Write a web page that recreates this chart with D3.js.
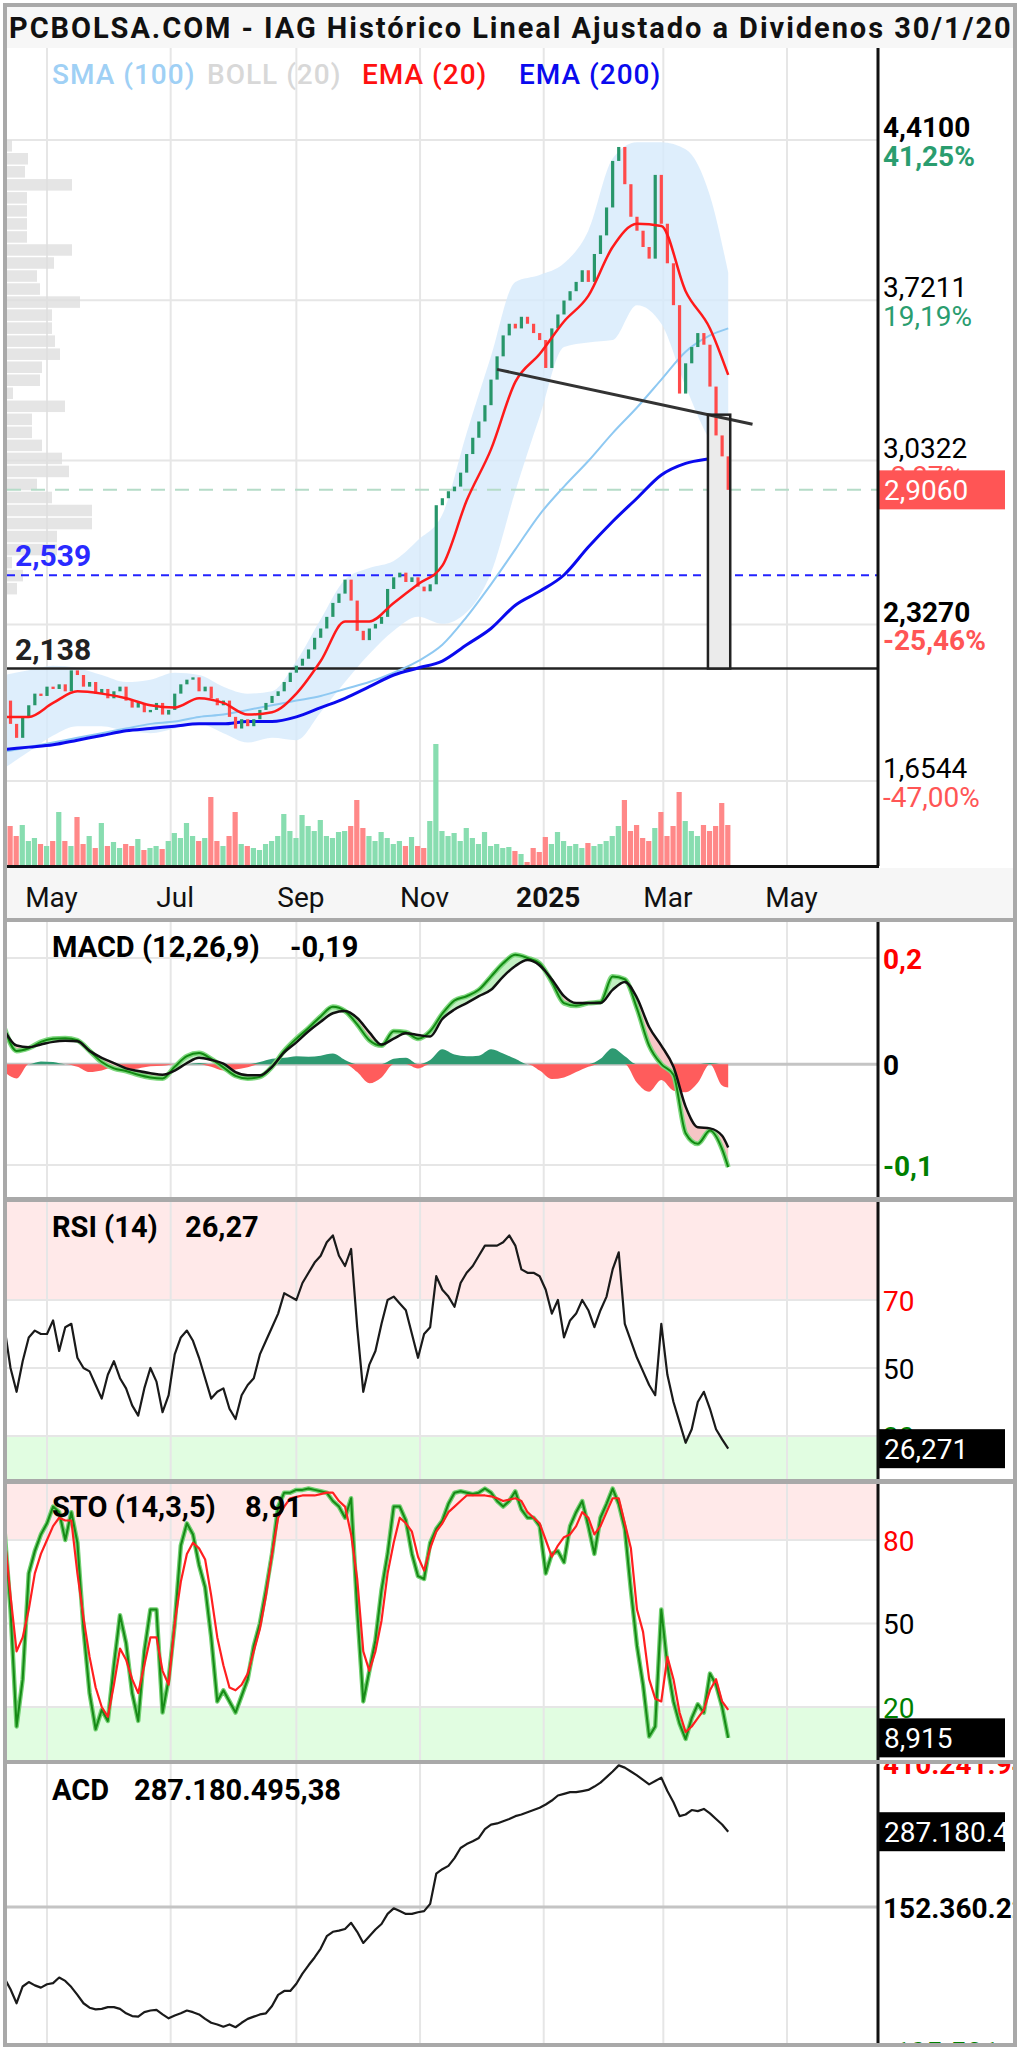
<!DOCTYPE html>
<html><head><meta charset="utf-8">
<script src="https://cdn.jsdelivr.net/npm/d3@7"></script>
<style>body{margin:0;background:#fff}svg text{font-family:Roboto,"DejaVu Sans",sans-serif}</style>
</head><body>
<script>
// ---------- data (one point every 3 days, Apr 2024 - Apr 2025) ----------
var closes = [2.00,1.90,1.84,1.93,1.98,2.03,2.02,2.06,2.05,2.07,
  2.04,2.13,2.11,2.06,2.08,2.03,2.05,2.01,2.04,2.06,
  2.00,1.97,1.99,1.95,1.96,1.99,1.94,1.96,2.03,2.07,
  2.09,2.10,2.04,2.06,2.01,1.98,2.00,1.93,1.88,1.92,
  1.89,1.92,1.96,1.99,2.02,2.04,2.08,2.12,2.15,2.18,
  2.22,2.27,2.31,2.36,2.42,2.46,2.52,2.43,2.30,2.26,
  2.31,2.33,2.36,2.48,2.53,2.55,2.51,2.53,2.49,2.47,
  2.50,2.84,2.87,2.90,2.92,2.98,3.06,3.13,3.20,3.27,
  3.38,3.48,3.57,3.62,3.60,3.65,3.62,3.58,3.55,3.43,
  3.60,3.66,3.72,3.76,3.80,3.85,3.80,3.92,4.00,4.12,
  4.32,4.38,4.22,4.08,4.02,3.95,3.90,4.26,4.05,3.88,
  3.70,3.32,3.45,3.52,3.58,3.53,3.35,3.14,3.05,2.906];

var volumes = [27,20,15,20.5,12.5,14,11,10,12.5,27,
  12.5,10,24.5,11,15,9,21.5,10,12,9,
  11,10,13.5,8,9,10,8.5,12.5,16.5,14,
  21.5,15,12.5,14,34.5,12.5,10,15,27,11,
  10,9,8,11,12.5,15,26,17.5,14,25.5,
  20,17.5,23,15,14,17,17.5,20,33,19,
  15,12.5,17,14,11,12.5,10,14.5,10,9,
  22.5,61,17.5,15,16.5,12.5,19,14,11,17,
  10,11,9,9.5,7.5,6,2,9,7,14.5,
  11,17,12.5,10,11,9,11.5,10,11,12.5,
  15,20,33,17.5,20.5,14,12.5,19,27,15,
  20,37,22.5,17.5,15,20.5,17.5,20,31.5,20.5];

// overlays, one point every 12 days
var ema20  = [1.93,1.93,1.99,2.04,2.03,2.01,1.98,1.97,2.01,1.99,1.94,1.95,2.03,2.17,2.34,2.34,2.42,2.50,2.58,2.86,3.08,3.37,3.49,3.63,3.74,3.95,4.05,4.04,3.76,3.60,3.40];
var ema200 = [1.79,1.80,1.81,1.83,1.85,1.87,1.88,1.89,1.90,1.90,1.91,1.91,1.93,1.97,2.01,2.06,2.11,2.14,2.17,2.24,2.31,2.41,2.47,2.54,2.66,2.77,2.87,2.97,3.02,3.04,3.05];
var sma100 = [1.78,1.80,1.82,1.84,1.86,1.88,1.90,1.91,1.93,1.94,1.96,1.98,2.00,2.02,2.05,2.08,2.12,2.17,2.24,2.36,2.50,2.65,2.80,2.92,3.03,3.15,3.26,3.38,3.50,3.57,3.60];
var bollUp = [2.11,2.13,2.15,2.14,2.11,2.08,2.09,2.12,2.11,2.06,2.03,2.04,2.17,2.35,2.52,2.57,2.60,2.69,2.80,3.15,3.48,3.80,3.83,3.88,4.02,4.33,4.40,4.40,4.37,4.17,3.84];
var bollLo = [1.71,1.78,1.85,1.89,1.89,1.87,1.86,1.88,1.90,1.86,1.82,1.84,1.83,1.95,2.08,2.20,2.30,2.36,2.33,2.38,2.55,2.90,3.22,3.52,3.54,3.55,3.70,3.62,3.35,3.12,3.03];

// volume by price, from 4.41 downwards
var profile = [5,21,18,65,20,20,20,20,65,47,30,33,73,45,45,48,53,35,33,6,58,25,25,35,55,62,30,45,85,85,50,50,5,16,10];

// MACD, one point every 6 days
var macd = [0.068,0.025,0.030,0.042,0.048,0.049,0.045,0.025,0.004,-0.008,
  -0.013,-0.020,-0.025,-0.027,-0.005,0.015,0.021,0.010,-0.006,-0.022,
  -0.027,-0.024,-0.005,0.025,0.048,0.068,0.090,0.108,0.100,0.075,
  0.045,0.035,0.062,0.060,0.048,0.062,0.095,0.120,0.128,0.140,
  0.165,0.190,0.206,0.200,0.190,0.155,0.115,0.110,0.115,0.117,
  0.165,0.160,0.105,0.035,0.000,-0.020,-0.130,-0.150,-0.125,-0.160,-0.194];
var signal = [0.064,0.035,0.032,0.037,0.042,0.044,0.043,0.025,0.012,0.002,
  -0.008,-0.013,-0.017,-0.020,-0.012,0.002,0.012,0.008,0.001,-0.015,
  -0.021,-0.021,-0.005,0.022,0.041,0.062,0.080,0.096,0.100,0.087,
  0.060,0.037,0.048,0.058,0.055,0.052,0.085,0.103,0.115,0.128,
  0.140,0.165,0.185,0.196,0.186,0.160,0.128,0.115,0.115,0.115,
  0.140,0.155,0.125,0.070,0.035,-0.005,-0.080,-0.119,-0.121,-0.135,-0.157];
var hist = [-0.015,-0.027,0,0.005,0.004,0,-0.005,-0.015,-0.012,-0.006,
  -0.010,-0.008,-0.004,-0.003,0,0,0.002,-0.005,-0.012,-0.010,
  -0.006,0.004,0.010,0.012,0.015,0.014,0.016,0.020,0.008,-0.015,
  -0.036,-0.025,0.010,0.012,-0.008,0.008,0.028,0.018,0.015,0.016,
  0.028,0.020,0.010,0,-0.012,-0.028,-0.025,-0.015,-0.005,0.010,
  0.030,0.015,-0.035,-0.052,-0.030,-0.050,-0.053,-0.035,0.002,-0.040,-0.044];

var rsi = [62,50,43,52,59,61,60,60,64,55,
  62,63,53,50,49,45,41,48,52,47,
  44,39,36,44,50,46,37,42,54,59,
  61,58,53,47,41,43,44,38,35,42,
  45,47,54,58,62,66,72,71,70,75,
  78,81,83,87,89,83,80,85,62,43,
  51,55,63,70,71,69,67,60,53,60,
  62,77,73,71,68,75,78,80,83,86,
  86,86,87,89,86,79,78,78,77,73,
  66,70,59,64,66,70,67,62,67,71,
  79,84,63,58,53,49,45,42,63,48,
  40,34,28,32,40,43,38,32,29,26.27];

var stoK = [84,55,13,30,68,76,82,86,92,90,
  80,90,79,48,25,12,19,15,35,53,
  43,25,15,40,55,55,18,30,50,78,
  86,82,71,63,45,22,26,22,18,24,
  30,42,50,62,75,92,97,97,98,98,
  98.5,98,97.5,97,94,92,88,95,55,22,
  33,44,62,75,92,92,87,75,67,66,
  79,84,87,93,97,97.5,97,96.5,97,98.5,
  97,94,92,94,97.5,91,88,88,85,68,
  75,76,72,85,90,94,85,75,88,93,
  98.5,93,84,62,42,28,9.4,13,55,35,
  22,14,8.5,16,21,18,32,28,20,8.915];
var stoD = [82,60,40,45,55,68,75,80,85,88,
  87,87,68,52,38,27,20,16.5,28,41,
  37,30,25,35,45,45,33,28,50,65,
  75,79,77,73,60,45,35,27,26,28,
  32,40,48,60,75,88,92,95,95.5,96,
  96,96,96.5,97,97,94,92,82,66,40,
  33,40,51,68,79,88,86,83,74,69,
  77,83,86,90,92,94,96,96,96,96,
  95.7,95,94,94.5,95,94,90,88,86,80,
  74,78,81,82,85,90,88,82,85,90,
  95,95,86,77,55,47,30,23,22,38,
  30,18,11,13,16,19,26,30,22,19];

// ACD in millions
var acd = [25,5,-20,10,18,12,8,14,16,26,
  20,9,-5,-20,-28,-31,-30,-27,-27,-30,
  -38,-43,-44,-36,-33,-32,-40,-47,-42,-38,
  -33,-36,-40,-48,-55,-58,-62,-58,-63,-55,
  -48,-44,-40,-38,-25,-5,2,2,15,33,
  48,62,78,100,108,110,113,124,108,88,
  100,112,122,140,150,145,140,140,143,145,
  158,212,220,226,240,258,265,270,276,292,
  300,302,306,310,315,318,322,326,330,336,
  343,352,355,358,358,360,362,368,375,385,
  395,406,402,395,388,380,372,378,384,360,
  340,315,318,326,324,328,320,310,300,287.18];

// ticks and labels
var monthTicks = ["2024-05-01","2024-07-01","2024-09-01","2024-11-01","2025-01-01","2025-03-01","2025-05-01"];
var monthLabels = ["May","Jul","Sep","Nov","2025","Mar","May"];
var priceTicks = [4.41, 3.7211, 3.0322, 2.327, 1.6544];
var priceLabels = ["4,4100","3,7211","3,0322","2,3270","1,6544"];
var pctLabels = ["41,25%","19,19%","-2,87%","-25,46%","-47,00%"];
var priceBold = [true,false,false,true,false];
var macdTicks = [0.2, 0, -0.19], macdLabels = ["0,2","0","-0,1"];
var rsiTicks = [70, 50, 30], rsiLabels = ["70","50","30"];
var stoTicks = [80, 50, 20], stoLabels = ["80","50","20"];
var acdTicks = [410.2419, 152.3602, -105.5214], acdLabels = ["410.241.944","152.360.225","-105.521.494"];
var supportLevel = 2.138, blueLevel = 2.539;
var trendDates = ["2024-12-09","2025-04-14"], trendPrices = [3.424, 3.188];
var boxDates = ["2025-03-23","2025-04-03"];

// ---------- setup ----------
var parse = d3.timeParse("%Y-%m-%d");
var dates = d3.timeDay.range(new Date(2024,3,10), new Date(2025,3,4), 3);
var ovDates = d3.range(0,120,4).concat([119]).map(function(i){ return dates[i]; });
var mDates = d3.range(0,120,2).concat([119]).map(function(i){ return dates[i]; });

var L = 7, R = 877;
var P = {main:[48,866], macd:[922,1197], rsi:[1202,1479], sto:[1484,1760], acd:[1764,2046]};
var green = "#27966a", red = "#ff4a4a";

var x = d3.scaleTime().domain([parse("2024-05-01"), parse("2025-05-01")]).range([47, 787]);
var yP = d3.scaleLinear().domain([1.6544, 4.41]).range([781, 140]);
var yV = d3.scaleLinear().domain([0, 61]).range([866, 744]);
var yM = d3.scaleLinear().domain([-0.19, 0.2]).range([1165, 958]);
var yR = d3.scaleLinear().domain([30, 70]).range([1436, 1300]);
var yS = d3.scaleLinear().domain([20, 80]).range([1707, 1540]);
var yA = d3.scaleLinear().domain([-105.5214, 410.2419]).range([2051, 1763]);
var xProf = d3.scaleLinear().domain([0, 100]).range([0, 100]);

var svg = d3.select("body").append("svg").attr("width",1020).attr("height",2048);
var defs = svg.append("defs");
Object.keys(P).forEach(function(k){
  defs.append("clipPath").attr("id","c_"+k).append("rect")
    .attr("x",L).attr("y",P[k][0]).attr("width",R-L).attr("height",P[k][1]-P[k][0]);
  defs.append("clipPath").attr("id","r_"+k).append("rect")
    .attr("x",R).attr("y",P[k][0]).attr("width",1013-R).attr("height",P[k][1]-P[k][0]);
});

svg.append("rect").attr("width",1020).attr("height",2048).attr("fill","#fff");

// title bar
svg.append("rect").attr("x",L).attr("y",7).attr("width",1006).attr("height",41).attr("fill","#f7f7f7");
svg.append("text").attr("x",9).attr("y",38).attr("font-size",29).attr("font-weight","bold").attr("fill","#111")
  .attr("letter-spacing",1.95)
  .text("PCBOLSA.COM - IAG Histórico Lineal Ajustado a Dividenos 30/1/20");

// date band + separators
svg.append("rect").attr("x",L).attr("y",868).attr("width",1006).attr("height",50).attr("fill","#f6f6f6");
[[918,922],[1197,1202],[1479,1484],[1760,1764]].forEach(function(s){
  svg.append("rect").attr("x",L).attr("y",s[0]).attr("width",1006).attr("height",s[1]-s[0]).attr("fill","#a9a9a9");
});

// grids per panel
var mt = monthTicks.map(parse);
function vgrid(k){
  svg.append("g").selectAll("line").data(mt).join("line")
    .attr("x1",function(d){return x(d);}).attr("x2",function(d){return x(d);})
    .attr("y1",P[k][0]).attr("y2",P[k][1]).attr("stroke","#e6e6e6").attr("stroke-width",2);
}
function hgrid(vals, sc, col, w){
  svg.append("g").selectAll("line").data(vals).join("line")
    .attr("x1",L).attr("x2",R).attr("y1",function(d){return sc(d);}).attr("y2",function(d){return sc(d);})
    .attr("stroke",col||"#e6e6e6").attr("stroke-width",w||2);
}

// ---------- main panel ----------
vgrid("main");
hgrid(priceTicks, yP);

var gm = svg.append("g").attr("clip-path","url(#c_main)");
var pStep = 0.056;
gm.selectAll(".prof").data(profile).join("rect")
  .attr("x",L).attr("width",function(d){return xProf(d);})
  .attr("y",function(d,i){return yP(4.41 - i*pStep);})
  .attr("height",function(d,i){return yP(4.41-(i+1)*pStep) - yP(4.41-i*pStep) - 1.5;})
  .attr("fill","#dedede").attr("opacity",0.8);

var band = d3.area().x(function(d,k){return x(ovDates[k]);})
  .y0(function(d,k){return yP(bollLo[k]);}).y1(function(d,k){return yP(bollUp[k]);}).curve(d3.curveMonotoneX);
gm.append("path").datum(bollUp).attr("d",band).attr("fill","#d6eafb").attr("opacity",0.8);

function openOf(i){ return i ? closes[i-1] : closes[i]; }
gm.selectAll(".vol").data(volumes).join("rect")
  .attr("x",function(d,i){return x(dates[i])-3;}).attr("width",5.2)
  .attr("y",function(d){return yV(d);}).attr("height",function(d){return 866 - yV(d);})
  .attr("fill",function(d,i){return closes[i] >= openOf(i) ? "#88ddb0" : "#ff8888";});

gm.append("line").attr("x1",L).attr("x2",R).attr("y1",yP(supportLevel)).attr("y2",yP(supportLevel))
  .attr("stroke","#222").attr("stroke-width",2.5);
gm.append("line").attr("x1",L).attr("x2",R).attr("y1",yP(blueLevel)).attr("y2",yP(blueLevel))
  .attr("stroke","#2323ff").attr("stroke-width",2).attr("stroke-dasharray","8,6");
var last = closes[closes.length-1];
gm.append("line").attr("x1",L).attr("x2",R).attr("y1",yP(last)).attr("y2",yP(last))
  .attr("stroke","#b5dcc8").attr("stroke-width",2).attr("stroke-dasharray","14,10");

function ovLine(arr){
  return d3.line().x(function(d,k){return x(ovDates[k]);}).y(function(d){return yP(d);}).curve(d3.curveMonotoneX)(arr);
}
gm.append("path").attr("d",ovLine(sma100)).attr("fill","none").attr("stroke","#8fc9f2").attr("stroke-width",2);
gm.append("path").attr("d",ovLine(ema200)).attr("fill","none").attr("stroke","#0a0aee").attr("stroke-width",3);

// trendline and box
var tD = trendDates.map(parse);
function trendAt(d){ var t = (d - tD[0])/(tD[1]-tD[0]); return trendPrices[0] + t*(trendPrices[1]-trendPrices[0]); }
var bD = boxDates.map(parse);
var boxTop = trendAt(bD[0]);
gm.append("rect").attr("x",x(bD[0])).attr("width",x(bD[1])-x(bD[0]))
  .attr("y",yP(boxTop)).attr("height",yP(supportLevel)-yP(boxTop)).attr("fill","#ebebeb");

gm.selectAll(".cdl").data(closes).join("rect")
  .attr("x",function(d,i){return x(dates[i])-1.6;}).attr("width",3.2)
  .attr("y",function(d,i){return yP(Math.max(d,openOf(i)));})
  .attr("height",function(d,i){return Math.max(2, Math.abs(yP(d)-yP(openOf(i))));})
  .attr("fill",function(d,i){return d >= openOf(i) ? green : red;});

gm.append("path").attr("d",ovLine(ema20)).attr("fill","none").attr("stroke","#ff1a1a").attr("stroke-width",2.5);

gm.append("line").attr("x1",x(tD[0])).attr("y1",yP(trendPrices[0])).attr("x2",x(tD[1])).attr("y2",yP(trendPrices[1]))
  .attr("stroke","#333").attr("stroke-width",3);
gm.append("rect").attr("x",x(bD[0])).attr("width",x(bD[1])-x(bD[0]))
  .attr("y",yP(boxTop)).attr("height",yP(supportLevel)-yP(boxTop)).attr("fill","none")
  .attr("stroke","#222").attr("stroke-width",2.5);

svg.append("text").attr("x",15).attr("y",yP(blueLevel)-9).attr("font-size",30).attr("font-weight","bold")
  .attr("fill","#2a2aff").text("2,539");
svg.append("text").attr("x",15).attr("y",yP(supportLevel)-9).attr("font-size",30).attr("font-weight","bold")
  .attr("fill","#222").text("2,138");

// legend
var legend = [["SMA (100)","#9fd0f5",52],["BOLL (20)","#d8d8d8",207],["EMA (20)","#ff1010",362],["EMA (200)","#0a0aee",519]];
svg.append("g").selectAll("text").data(legend).join("text")
  .attr("x",function(d){return d[2];}).attr("y",84).attr("font-size",28).attr("font-weight",500)
  .attr("letter-spacing",1)
  .attr("fill",function(d){return d[1];}).text(function(d){return d[0];});

// ---------- right axes ----------
function rightAxis(k, sc, vals, labs, colors, weights, dy){
  var g = svg.append("g").attr("clip-path","url(#r_"+k+")").append("g").attr("transform","translate("+R+",0)")
    .call(d3.axisRight(sc).tickValues(vals).tickSize(0).tickPadding(6).tickFormat(function(d,i){return labs[i];}));
  g.select(".domain").remove();
  g.selectAll("text").attr("font-size",28).attr("font-family","Roboto, sans-serif").attr("dy",dy)
    .attr("fill",function(d,i){return colors[i];}).attr("font-weight",function(d,i){return weights[i];});
  return g;
}
rightAxis("main", yP, priceTicks, priceLabels, ["#000","#000","#000","#000","#000"],
  priceBold.map(function(b){return b?"bold":"normal";}), "-0.12em");
rightAxis("main", yP, priceTicks, pctLabels, ["#2a9d6f","#2a9d6f","#ff5555","#ff5555","#ff5555"],
  priceBold.map(function(b){return b?"bold":"normal";}), "0.9em");

function valueBox(k, yc, txt, fill){
  var g = svg.append("g").attr("clip-path","url(#r_"+k+")");
  g.append("rect").attr("x",R).attr("y",yc-19.5).attr("width",128).attr("height",39).attr("fill",fill);
  g.append("text").attr("x",R+7).attr("y",yc+10).attr("font-size",28).attr("fill","#fff").text(txt);
}
valueBox("main", yP(last), "2,9060", "#ff5555");

// ---------- date axis ----------
var dax = svg.append("g").attr("transform","translate(4,868)")
  .call(d3.axisBottom(x).tickValues(mt).tickSize(0).tickPadding(19).tickFormat(function(d,i){return monthLabels[i];}));
dax.select(".domain").remove();
dax.selectAll("text").attr("font-size",28).attr("fill","#111").attr("font-family","Roboto, sans-serif")
  .attr("font-weight",function(d,i){return monthLabels[i]==="2025"?"bold":"normal";});

// ---------- MACD ----------
vgrid("macd");
hgrid([0.2,-0.19], yM);
hgrid([0], yM, "#c4c4c4", 3);
var gM = svg.append("g").attr("clip-path","url(#c_macd)");
var mx = function(d,k){return x(mDates[k]);};
gM.append("path").attr("d", d3.area().x(mx).y0(yM(0)).y1(function(d){return yM(Math.max(0,d));}).curve(d3.curveMonotoneX)(hist))
  .attr("fill","#2e9a72");
gM.append("path").attr("d", d3.area().x(mx).y0(yM(0)).y1(function(d){return yM(Math.min(0,d));}).curve(d3.curveMonotoneX)(hist))
  .attr("fill","#ff5c5c");
gM.append("path").attr("d", d3.area().x(mx).y0(function(d,k){return yM(signal[k]);})
  .y1(function(d,k){return yM(Math.max(d,signal[k]));}).curve(d3.curveMonotoneX)(macd)).attr("fill","#c2efc2");
gM.append("path").attr("d", d3.area().x(mx).y0(function(d,k){return yM(signal[k]);})
  .y1(function(d,k){return yM(Math.min(d,signal[k]));}).curve(d3.curveMonotoneX)(macd)).attr("fill","#f6c6c6");
var mLine = d3.line().x(mx).y(function(d){return yM(d);}).curve(d3.curveMonotoneX);
gM.append("path").attr("d",mLine(macd)).attr("fill","none").attr("stroke","#7fd87f").attr("stroke-width",5);
gM.append("path").attr("d",mLine(macd)).attr("fill","none").attr("stroke","#128a12").attr("stroke-width",2);
gM.append("path").attr("d",mLine(signal)).attr("fill","none").attr("stroke","#111").attr("stroke-width",2.5);
rightAxis("macd", yM, macdTicks, macdLabels, ["#ff0000","#000","#008000"], ["bold","bold","bold"], "0.36em");

// ---------- RSI ----------
var gR = svg.append("g").attr("clip-path","url(#c_rsi)");
gR.append("rect").attr("x",L).attr("width",R-L).attr("y",P.rsi[0]).attr("height",yR(70)-P.rsi[0]).attr("fill","#ffe9e9");
gR.append("rect").attr("x",L).attr("width",R-L).attr("y",yR(30)).attr("height",P.rsi[1]-yR(30)).attr("fill","#e1fde1");
vgrid("rsi");
hgrid(rsiTicks, yR);
var dl = function(sc){ return d3.line().x(function(d,i){return x(dates[i]);}).y(function(d){return sc(d);}); };
svg.append("g").attr("clip-path","url(#c_rsi)").append("path").attr("d",dl(yR)(rsi))
  .attr("fill","none").attr("stroke","#1a1a1a").attr("stroke-width",2.2).attr("stroke-linejoin","round");
rightAxis("rsi", yR, rsiTicks, rsiLabels, ["#ff0000","#000","#008000"], ["normal","normal","normal"], "0.36em");
valueBox("rsi", yR(rsi[rsi.length-1]), "26,271", "#000");

// ---------- STO ----------
var gS = svg.append("g").attr("clip-path","url(#c_sto)");
gS.append("rect").attr("x",L).attr("width",R-L).attr("y",P.sto[0]).attr("height",yS(80)-P.sto[0]).attr("fill","#ffe9e9");
gS.append("rect").attr("x",L).attr("width",R-L).attr("y",yS(20)).attr("height",P.sto[1]-yS(20)).attr("fill","#e1fde1");
vgrid("sto");
hgrid(stoTicks, yS);
var gS2 = svg.append("g").attr("clip-path","url(#c_sto)");
gS2.append("path").attr("d",dl(yS)(stoK)).attr("fill","none").attr("stroke","#72d072").attr("stroke-width",4.5).attr("stroke-linejoin","round");
gS2.append("path").attr("d",dl(yS)(stoK)).attr("fill","none").attr("stroke","#168a16").attr("stroke-width",2).attr("stroke-linejoin","round");
gS2.append("path").attr("d",dl(yS)(stoD)).attr("fill","none").attr("stroke","#ff2020").attr("stroke-width",2.2).attr("stroke-linejoin","round");
rightAxis("sto", yS, stoTicks, stoLabels, ["#ff0000","#000","#008000"], ["normal","normal","normal"], "0.36em");
valueBox("sto", yS(stoK[stoK.length-1]), "8,915", "#000");

// ---------- ACD ----------
vgrid("acd");
hgrid([152.3602], yA, "#c4c4c4", 3);
svg.append("g").attr("clip-path","url(#c_acd)").append("path").attr("d",dl(yA)(acd))
  .attr("fill","none").attr("stroke","#1a1a1a").attr("stroke-width",2.2).attr("stroke-linejoin","round");
rightAxis("acd", yA, acdTicks, acdLabels, ["#ff0000","#000","#008000"], ["bold","bold","bold"], "0.36em");
valueBox("acd", yA(acd[acd.length-1]), "287.180.495", "#000");

// indicator headers
var heads = [["MACD (12,26,9)","-0,19",290,957],["RSI (14)","26,27",185,1237],["STO (14,3,5)","8,91",245,1517],["ACD","287.180.495,38",134,1800]];
heads.forEach(function(h){
  svg.append("text").attr("x",52).attr("y",h[3]).attr("font-size",29).attr("font-weight","bold").attr("fill","#000").text(h[0]);
  svg.append("text").attr("x",h[2]).attr("y",h[3]).attr("font-size",29).attr("font-weight","bold").attr("fill","#000").text(h[1]);
});

// axis lines and frame
Object.keys(P).forEach(function(k){
  svg.append("line").attr("x1",R+1).attr("x2",R+1).attr("y1",P[k][0]).attr("y2",P[k][1]).attr("stroke","#111").attr("stroke-width",3);
});
svg.append("line").attr("x1",L).attr("x2",R+2).attr("y1",866.5).attr("y2",866.5).attr("stroke","#111").attr("stroke-width",3);
svg.append("rect").attr("x",5).attr("y",5).attr("width",1010).attr("height",2040)
  .attr("fill","none").attr("stroke","#a9a9a9").attr("stroke-width",4);
</script>
</body></html>
